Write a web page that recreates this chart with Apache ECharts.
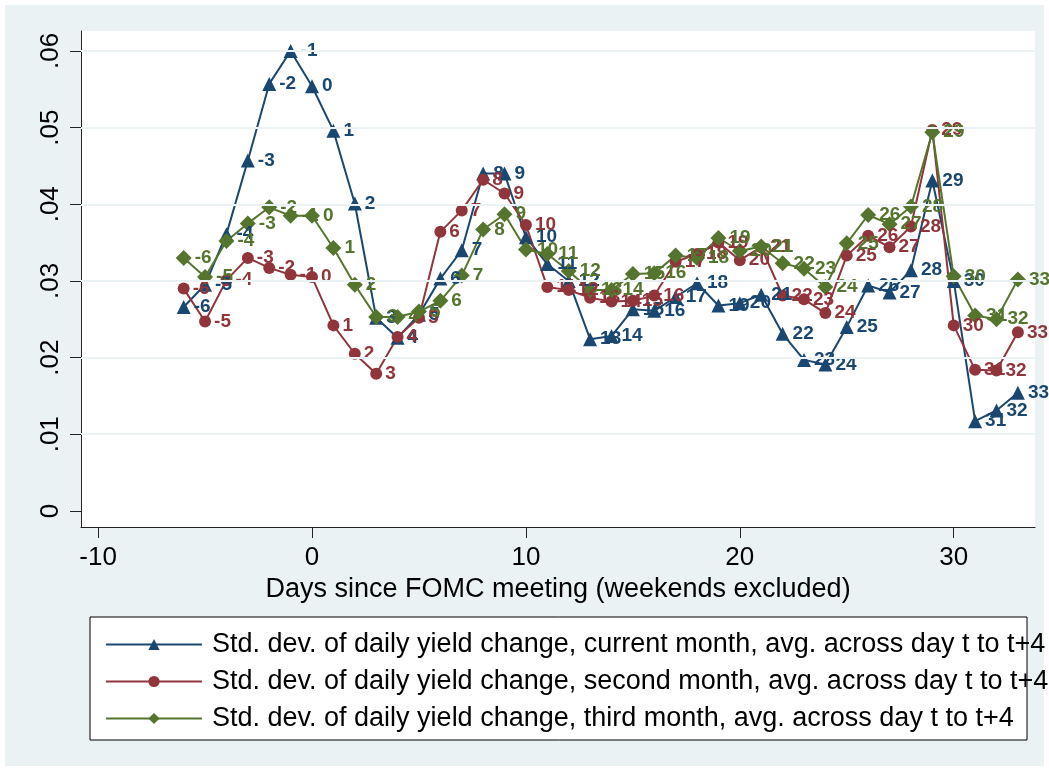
<!DOCTYPE html>
<html>
<head>
<meta charset="utf-8">
<script src="https://cdn.jsdelivr.net/npm/echarts@6/dist/echarts.min.js"></script>
<style>
  html, body { margin: 0; padding: 0; background: #fff; }
  #chart { width: 1049px; height: 771px; }
</style>
</head>
<body>
<div id="chart"></div>
<script>
// days since FOMC meeting
const days = [-6, -5, -4, -3, -2, -1, 0, 1, 2, 3, 4, 5, 6, 7, 8, 9, 10, 11, 12, 13,
              14, 15, 16, 17, 18, 19, 20, 21, 22, 23, 24, 25, 26, 27, 28, 29, 30, 31, 32, 33];

const currentMonth = [0.0266, 0.0295, 0.0361, 0.0457, 0.0557, 0.0600, 0.0554, 0.0496, 0.0401, 0.0252,
                      0.0226, 0.0256, 0.0303, 0.0340, 0.0440, 0.0440, 0.0357, 0.0322, 0.0300, 0.0224,
                      0.0228, 0.0263, 0.0261, 0.0279, 0.0297, 0.0268, 0.0271, 0.0282, 0.0231, 0.0197,
                      0.0191, 0.0240, 0.0294, 0.0285, 0.0314, 0.0431, 0.0300, 0.0117, 0.0131, 0.0154];

const secondMonth = [0.0290, 0.0247, 0.0301, 0.0330, 0.0317, 0.0308, 0.0305, 0.0242, 0.0205, 0.0179,
                     0.0227, 0.0252, 0.0364, 0.0392, 0.0432, 0.0414, 0.0373, 0.0292, 0.0288, 0.0278,
                     0.0273, 0.0274, 0.0281, 0.0325, 0.0335, 0.0350, 0.0327, 0.0344, 0.0281, 0.0276,
                     0.0258, 0.0333, 0.0359, 0.0344, 0.0371, 0.0497, 0.0242, 0.0184, 0.0183, 0.0233];

const thirdMonth = [0.0330, 0.0305, 0.0352, 0.0375, 0.0396, 0.0385, 0.0385, 0.0343, 0.0295, 0.0253,
                    0.0253, 0.0260, 0.0274, 0.0307, 0.0367, 0.0387, 0.0341, 0.0335, 0.0313, 0.0288,
                    0.0288, 0.0309, 0.0310, 0.0333, 0.0330, 0.0356, 0.0339, 0.0345, 0.0323, 0.0316,
                    0.0292, 0.0349, 0.0386, 0.0374, 0.0397, 0.0494, 0.0306, 0.0255, 0.0250, 0.0302];

const xTicks = [-10, 0, 10, 20, 30];
const yTicks = [0, 0.01, 0.02, 0.03, 0.04, 0.05, 0.06];
const yGrid = [0.01, 0.02, 0.03, 0.04, 0.05, 0.06];

const names = [
  'Std. dev. of daily yield change, current month, avg. across day t to t+4',
  'Std. dev. of daily yield change, second month, avg. across day t to t+4',
  'Std. dev. of daily yield change, third month, avg. across day t to t+4'
];

const FONT = '"Liberation Sans", Arial, sans-serif';
const BG = '#eaf2f3';

const chart = echarts.init(document.getElementById('chart'), null, { renderer: 'canvas' });

function makeSeries(name, values, color, symbol, size) {
  return {
    name: name,
    type: 'line',
    z: 3,
    data: days.map((d, i) => [d, values[i]]),
    symbol: symbol,
    symbolSize: size,
    lineStyle: { color: color, width: 2 },
    itemStyle: { color: color },
    label: {
      show: true,
      position: 'right',
      distance: 3,
      color: color,
      fontFamily: FONT,
      fontSize: 19,
      fontWeight: 'bold',
      formatter: p => String(p.value[0])
    },
    emphasis: { disabled: true },
    animation: false
  };
}

const option = {
  backgroundColor: '#fff',
  animation: false,
  graphic: [
    { type: 'rect', z: -10, shape: { x: 5, y: 5, width: 1039, height: 761 }, style: { fill: BG } },
    { type: 'rect', z: 0, shape: { x: 90, y: 617, width: 937, height: 123 },
      style: { fill: '#fff', stroke: '#000', lineWidth: 1 } }
  ],
  grid: {
    left: 81, top: 31, right: 14, bottom: 244,
    show: true, backgroundColor: '#fff', borderWidth: 0
  },
  xAxis: {
    type: 'value',
    min: -10.8,
    max: 33.8,
    axisLine: { show: true, onZero: false, lineStyle: { color: '#222', width: 1 } },
    axisTick: { show: true, length: 11, customValues: xTicks, lineStyle: { color: '#222' } },
    axisLabel: { customValues: xTicks, margin: 18, color: '#000', fontFamily: FONT, fontSize: 26 },
    splitLine: { show: false },
    name: 'Days since FOMC meeting (weekends excluded)',
    nameLocation: 'middle',
    nameGap: 46,
    nameTextStyle: { color: '#000', fontFamily: FONT, fontSize: 27 }
  },
  yAxis: {
    type: 'value',
    min: -0.0021,
    max: 0.0626,
    axisLine: { show: true, onZero: false, lineStyle: { color: '#222', width: 1 } },
    axisTick: { show: true, length: 11, customValues: yTicks, lineStyle: { color: '#222' } },
    axisLabel: {
      customValues: yTicks,
      rotate: 90,
      margin: 17,
      color: '#000',
      fontFamily: FONT,
      fontSize: 26,
      formatter: v => (Math.abs(v) < 1e-9 ? '0' : v.toFixed(2).replace(/^0/, ''))
    },
    splitLine: { show: false }
  },
  legend: {
    orient: 'vertical',
    left: 100,
    top: 626,
    data: names,
    itemWidth: 96,
    itemHeight: 14,
    itemGap: 10,
    lineStyle: { width: 2 },
    textStyle: { color: '#000', fontFamily: FONT, fontSize: 27, lineHeight: 26, padding: [0, 0, 0, 5] },
    selectedMode: false
  },
  series: [
    {
      name: 'grid',
      type: 'line',
      z: 1,
      data: [],
      silent: true,
      markLine: {
        silent: true,
        symbol: ['none', 'none'],
        label: { show: false },
        lineStyle: { color: BG, width: 2, type: 'solid' },
        data: yGrid.map(v => ({ yAxis: v }))
      }
    },
    makeSeries(names[0], currentMonth, '#1a476f', 'triangle', 14),
    makeSeries(names[1], secondMonth, '#90353b', 'circle', 12),
    makeSeries(names[2], thirdMonth, '#55752f', 'diamond', 16)
  ]
};

chart.setOption(option);
</script>
</body>
</html>
